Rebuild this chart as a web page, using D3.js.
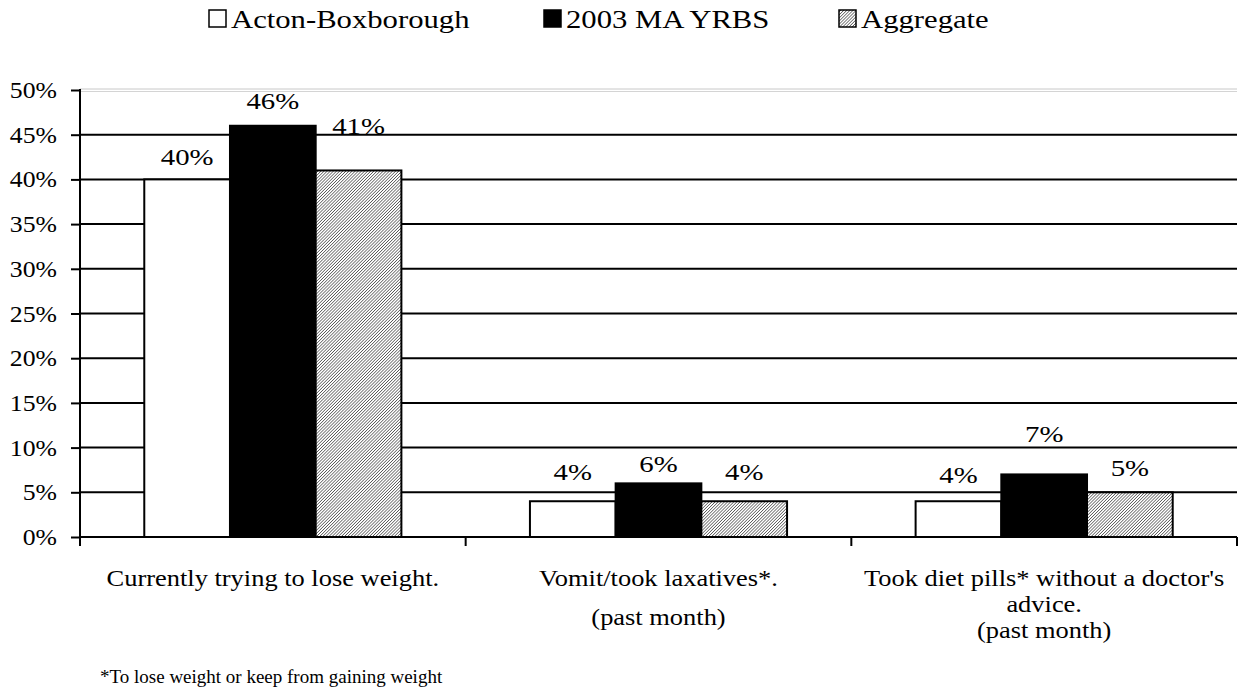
<!DOCTYPE html>
<html>
<head>
<meta charset="utf-8">
<script src="https://cdn.jsdelivr.net/npm/d3@7"></script>
<style>
  html, body { margin: 0; padding: 0; background: #fff; }
  svg { display: block; font-family: "Liberation Serif", "Times New Roman", serif; }
</style>
</head>
<body>
<svg id="chart" width="1245" height="691"></svg>
<script>
// ---- data ----
const categories = ["Currently trying to lose weight.", "Vomit/took laxatives*. (past month)", "Took diet pills* without a doctor's advice. (past month)"];
const categoryLines = [
  ["Currently trying to lose weight."],
  ["Vomit/took laxatives*.", "(past month)"],
  ["Took diet pills* without a doctor's", "advice.", "(past month)"]
];
const seriesNames = ["Acton-Boxborough", "2003 MA YRBS", "Aggregate"];
const actonValues = [40, 4, 4];
const yrbsValues = [46, 6, 7];
const aggregateValues = [41, 4, 5];
const yTicks = [0, 5, 10, 15, 20, 25, 30, 35, 40, 45, 50];
const footnote = "*To lose weight or keep from gaining weight";

// ---- layout / style (not data) ----
const labelLift = [[23, 25, 45], [29, 20, 29], [26, 41, 24]];
const catLineGap = [26, 39, 26];

const svg = d3.select("#chart");
const defs = svg.append("defs");
const pat = defs.append("pattern").attr("id", "hatch")
  .attr("patternUnits", "userSpaceOnUse").attr("width", 2.2).attr("height", 2.2)
  .attr("patternTransform", "rotate(45)");
pat.append("rect").attr("width", 2.2).attr("height", 2.2).attr("fill", "#fff");
pat.append("line").attr("x1", 0).attr("y1", 0).attr("x2", 0).attr("y2", 2.2)
  .attr("stroke", "#1e1e1e").attr("stroke-width", 1.1);

const fills = ["#ffffff", "#000000", "url(#hatch)"];
const seriesValues = [actonValues, yrbsValues, aggregateValues];

const pLeft = 80, pRight = 1237, pTop = 90, pBottom = 537;
const x = d3.scaleBand().domain(categories).range([pLeft, pRight]).padding(0);
const bw = x.bandwidth();
const x1 = d3.scaleBand().domain(seriesNames).range([bw / 6, bw * 5 / 6]).padding(0);
const y = d3.scaleLinear().domain([0, 50]).range([pBottom, pTop]);

// stretched text helper
function stext(parent, tx, ty, str, size, sx, anchor, baseline) {
  return parent.append("text")
    .attr("transform", `translate(${tx},${ty}) scale(${sx},1)`)
    .attr("text-anchor", anchor || "start")
    .attr("dominant-baseline", baseline || "auto")
    .attr("font-size", size).attr("fill", "#000").text(str);
}

// gridlines
svg.append("g").selectAll("line").data(yTicks.filter(t => t > 0 && t < 50)).join("line")
  .attr("x1", pLeft).attr("x2", pRight)
  .attr("y1", d => y(d)).attr("y2", d => y(d))
  .attr("stroke", "#000").attr("stroke-width", 2);
// top border (light)
svg.append("line").attr("x1", pLeft).attr("x2", pRight).attr("y1", y(50) - 1).attr("y2", y(50) - 1)
  .attr("stroke", "#c8c8c8").attr("stroke-width", 1);
svg.append("line").attr("x1", pLeft).attr("x2", pRight).attr("y1", y(50) + 1.5).attr("y2", y(50) + 1.5)
  .attr("stroke", "#d4d4d4").attr("stroke-width", 1);

// bars
const data = [];
categories.forEach((c, ci) => seriesNames.forEach((s, si) => data.push({ c, ci, s, si, v: seriesValues[si][ci] })));
svg.append("g").selectAll("rect").data(data).join("rect")
  .attr("x", d => x(d.c) + x1(d.s))
  .attr("y", d => y(d.v))
  .attr("width", x1.bandwidth())
  .attr("height", d => y(0) - y(d.v))
  .attr("fill", d => fills[d.si])
  .attr("stroke", "#000").attr("stroke-width", 2);

// value labels
const gv = svg.append("g");
data.forEach(d => {
  stext(gv, x(d.c) + x1(d.s) + x1.bandwidth() / 2, y(d.v) - labelLift[d.ci][d.si], d.v + "%", 24, 1.2, "middle", "central");
});

// y axis ticks (via axis generator) + labels
const yAxis = d3.axisLeft(y).tickValues(yTicks).tickFormat("").tickSize(9);
const gy = svg.append("g").attr("transform", `translate(${pLeft},0)`).call(yAxis);
gy.select(".domain").remove();
gy.selectAll(".tick line").attr("stroke", "#000").attr("stroke-width", 2);
const gyl = svg.append("g");
yTicks.forEach(t => stext(gyl, 57, y(t), t + "%", 23, 1.12, "end", "central"));
svg.append("line").attr("x1", pLeft).attr("x2", pLeft).attr("y1", pTop - 1).attr("y2", pBottom + 8)
  .attr("stroke", "#000").attr("stroke-width", 2);

// x axis line + ticks
svg.append("line").attr("x1", pLeft).attr("x2", pRight).attr("y1", pBottom).attr("y2", pBottom)
  .attr("stroke", "#000").attr("stroke-width", 2);
const bounds = categories.map(c => x(c)).concat([pRight]);
svg.append("g").selectAll("line").data(bounds).join("line")
  .attr("x1", d => d).attr("x2", d => d).attr("y1", pBottom).attr("y2", pBottom + 9)
  .attr("stroke", "#000").attr("stroke-width", 2);

// category labels
const gc = svg.append("g");
categories.forEach((c, ci) => {
  categoryLines[ci].forEach((line, li) => {
    stext(gc, x(c) + bw / 2, 586 + li * catLineGap[ci], line, 23, 1.15, "middle");
  });
});

// footnote
svg.append("text").attr("x", 100).attr("y", 683).attr("font-size", 19).attr("fill", "#000").text(footnote);

// legend
const legendX = [208, 543, 838];
const lg = svg.append("g").selectAll("g").data(seriesNames).join("g")
  .attr("transform", (d, i) => `translate(${legendX[i]},0)`);
lg.append("rect").attr("x", 1).attr("y", 10).attr("width", 17).attr("height", 17)
  .attr("fill", (d, i) => fills[i]).attr("stroke", "#000").attr("stroke-width", 1.5);
lg.each(function (d) { stext(d3.select(this), 23, 28, d, 26, 1.18, "start"); });
</script>
</body>
</html>
